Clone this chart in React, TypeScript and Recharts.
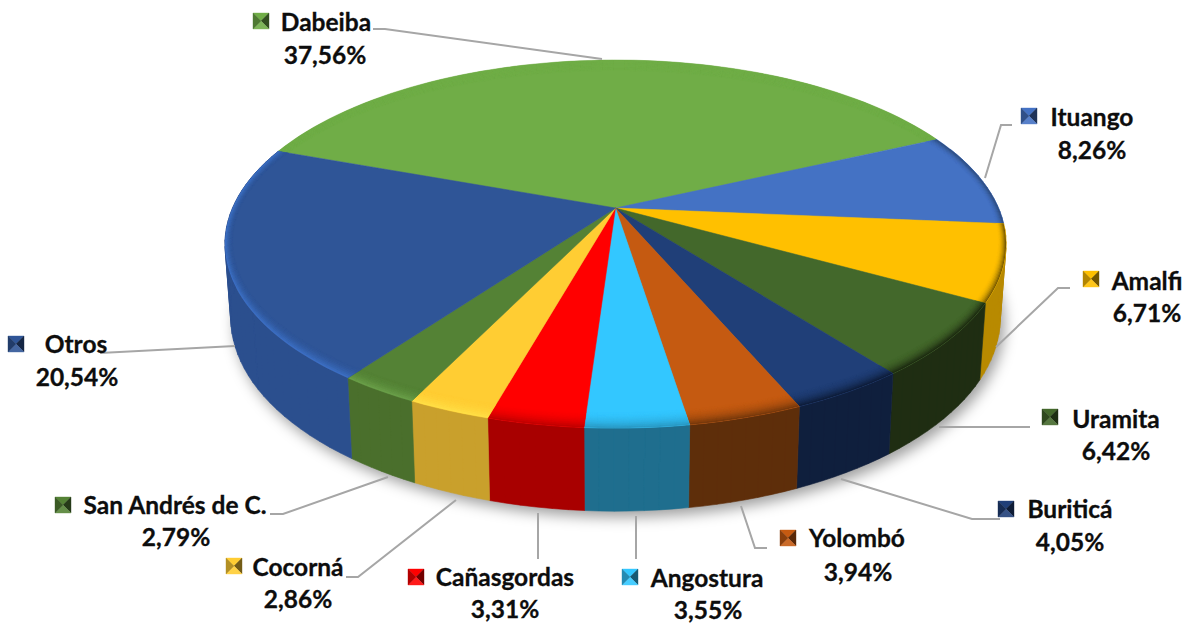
import { Pie, PieChart } from "recharts";

const names = ["Dabeiba", "Ituango", "Amalfi", "Uramita", "Buriticá", "Yolombó", "Angostura", "Cañasgordas", "Cocorná", "San Andrés de C.", "Otros"];
const shares = [37.56, 8.26, 6.71, 6.42, 4.05, 3.94, 3.55, 3.31, 2.86, 2.79, 20.54];
const topColors = ["#70AD47", "#4472C4", "#FFC000", "#43682B", "#203F78", "#C55A11", "#33C7FF", "#FF0000", "#FFCD33", "#548235", "#2F5597"];
const wallColors = ["#4F7A32", "#2F4F88", "#B88A00", "#1F2D12", "#0F1F3D", "#5E2E0A", "#1F6E8E", "#A80000", "#C9A02C", "#4A6F2C", "#2B4F8E"];
const rimColors = ["#70AD47", "#2F4F80", "#7A5C00", "#1F2D12", "#0F1F3D", "#7A3A0C", "#2A9CC8", "#C40000", "#FFDE45", "#699E48", "#3C6FC4"];

// label anchors: name centre, percent centre, marker centre, then leader line points
const nameAt = [[326, 21], [1092, 116], [1147, 280], [1116, 418], [1070, 508], [857, 537], [707, 577], [505, 576], [298, 566], [175, 504], [76, 343]];
const pctAt = [[325, 54], [1092, 149], [1147, 312], [1116, 450], [1070, 541], [858, 571], [708, 609], [505, 608], [298, 598], [176, 536], [77, 376]];
const markerAt = [[261, 21], [1029, 116], [1091, 279], [1050, 417], [1006, 509], [788, 538], [630, 577], [416, 577], [234, 566], [63, 505], [16, 344]];
const leaders = [
  "373,29 385,29 602,59",
  "1012,125 1001,125 985,178",
  "1070,288 1058,288 996,347",
  "1030,427 939,427",
  "1000,519 972,519 841,479",
  "767,548 755,548 741,506",
  "636,559 636,516",
  "538,559 538,513",
  "346,577 358,577 456,500",
  "270,514 283,514 388,477",
  "100,353 235,346",
];

const sliceData = names.map((name, i) => ({ name, value: shares[i] }));
const discData = [{ name: "disc", value: 100 }];

const WIDTH = 1196;
const HEIGHT = 625;
const APEX_X = 615.5;
const APEX_Y = 208;
const RX = 383;
const RY = 177;
const TILT = 0.196;

const rad = (deg: number) => (deg * Math.PI) / 180;

// perspective view of the flat pie
function project(deg: number) {
  const X = Math.cos(rad(deg));
  const Y = -Math.sin(rad(deg));
  const w = 1 - TILT * Y;
  return [(RX * X) / w, (RY * Y) / w];
}

const topPoint = (deg: number, sx = 1, sy = 1) => {
  const [u, v] = project(deg);
  return [APEX_X + u * sx, APEX_Y + v * sy];
};

const bottomPoint = (deg: number) => {
  const [u, v] = project(deg);
  return [APEX_X + u * 0.985, APEX_Y + v * 1.05 + 72];
};

function arcAngles(start: number, end: number) {
  const n = Math.max(2, Math.ceil(Math.abs(end - start) / 2));
  return Array.from({ length: n + 1 }, (_, i) => start + ((end - start) * i) / n);
}

const toPath = (pts: number[][]) => "M" + pts.map((p) => `${p[0].toFixed(1)},${p[1].toFixed(1)}`).join("L") + "Z";

function mix(a: string, b: string, t: number) {
  const pa = [1, 3, 5].map((i) => parseInt(a.slice(i, i + 2), 16));
  const pb = [1, 3, 5].map((i) => parseInt(b.slice(i, i + 2), 16));
  return `rgb(${pa.map((v, i) => Math.round(v + (pb[i] - v) * t)).join(",")})`;
}

function signedArea(pts: number[][]) {
  return pts.reduce((sum, p, k) => {
    const q = pts[(k + 1) % pts.length];
    return sum + p[0] * q[1] - q[0] * p[1];
  }, 0);
}

function ShadowShape(props: any) {
  const angles = arcAngles(props.startAngle, props.endAngle);
  const pts = angles.map((a) => {
    const [x, y] = bottomPoint(a);
    return [x + 4, y + 6];
  });
  return <path d={toPath(pts)} fill="#000000" fillOpacity={0.38} filter="url(#pieShadow)" />;
}

// the wall is swept quad by quad in one path, so the silhouettes fill in without seams
function WallShape(props: any) {
  const i = props.index;
  const angles = arcAngles(props.startAngle, props.endAngle);
  const d = angles
    .slice(1)
    .map((a, k) => {
      const prev = angles[k];
      if (Math.sin(rad(a)) > 0.35) return "";
      const quad = [topPoint(prev), topPoint(a), bottomPoint(a), bottomPoint(prev)];
      return toPath(signedArea(quad) < 0 ? quad.reverse() : quad);
    })
    .join("");
  return <path d={d} fill={wallColors[i]} stroke={wallColors[i]} strokeWidth={0.6} fillRule="nonzero" />;
}

const BEVEL_BANDS = 8;

function TopShape(props: any) {
  const i = props.index;
  const angles = arcAngles(props.startAngle, props.endAngle);
  const base = toPath([[APEX_X, APEX_Y], ...angles.map((a) => topPoint(a))]);
  const sign = props.endAngle < props.startAngle ? -1 : 1;
  // bands run past the slice ends and get clipped to the slice
  const wide = arcAngles(props.startAngle - sign * 6, props.endAngle + sign * 6);
  const bands = Array.from({ length: BEVEL_BANDS }, (_, b) => {
    const t0 = 1 - b / BEVEL_BANDS;
    const t1 = 1 - (b + 1) / BEVEL_BANDS;
    const outer = wide.map((a) => topPoint(a, 1 - 0.02 * t1, 1 - 0.07 * t1));
    const inner = wide.map((a) => topPoint(a, 1 - 0.02 * t0, 1 - 0.07 * t0));
    const t = (b + 1) / BEVEL_BANDS;
    return { d: toPath([...outer, ...inner.reverse()]), fill: mix(topColors[i], rimColors[i], t * t) };
  });
  return (
    <g>
      <clipPath id={`slice-${i}`}>
        <path d={base} />
      </clipPath>
      <path d={base} fill={topColors[i]} stroke={topColors[i]} strokeWidth={0.5} />
      <g clipPath={`url(#slice-${i})`}>
        {bands.map((b, k) => (
          <path d={b.d} fill={b.fill} stroke={b.fill} strokeWidth={0.4} key={k} />
        ))}
      </g>
    </g>
  );
}

function Marker({ x, y, color }: { x: number; y: number; color: string }) {
  const h = 8;
  const c = `${x},${y}`;
  const tl = `${x - h},${y - h}`;
  const tr = `${x + h},${y - h}`;
  const br = `${x + h},${y + h}`;
  const bl = `${x - h},${y + h}`;
  const faces = [
    { points: `${tl} ${tr} ${c}`, fill: color },
    { points: `${tr} ${br} ${c}`, fill: mix(color, "#000000", 0.55) },
    { points: `${br} ${bl} ${c}`, fill: mix(color, "#FFFFFF", 0.1) },
    { points: `${bl} ${tl} ${c}`, fill: mix(color, "#000000", 0.3) },
  ];
  return (
    <g>
      {faces.map((f, k) => (
        <polygon points={f.points} fill={f.fill} stroke={f.fill} strokeWidth={0.4} key={k} />
      ))}
    </g>
  );
}

function SliceLabel(props: any) {
  const i = props.index;
  const textStyle = { fontFamily: "Lato", fontWeight: 700, fontSize: 24.5, fill: "#0D0D0D", stroke: "#0D0D0D", strokeWidth: 0.3 };
  return (
    <g>
      <polyline points={leaders[i]} fill="none" stroke="#A6A6A6" strokeWidth={2} />
      <Marker x={markerAt[i][0]} y={markerAt[i][1]} color={topColors[i]} />
      <text x={nameAt[i][0]} y={nameAt[i][1]} textAnchor="middle" dominantBaseline="central" style={textStyle}>
        {names[i]}
      </text>
      <text x={pctAt[i][0]} y={pctAt[i][1]} textAnchor="middle" dominantBaseline="central" style={textStyle}>
        {shares[i].toFixed(2).replace(".", ",") + "%"}
      </text>
    </g>
  );
}

export default function App() {
  return (
    <div style={{ position: "absolute", left: 0, top: 0, width: WIDTH, height: HEIGHT }}>
      <PieChart width={WIDTH} height={HEIGHT} margin={{ top: 0, right: 0, bottom: 0, left: 0 }}>
        <defs>
          <filter id="pieShadow" x="-10%" y="-10%" width="120%" height="130%">
            <feGaussianBlur stdDeviation="7" />
          </filter>
        </defs>
        <Pie
          data={discData}
          dataKey="value"
          cx={APEX_X}
          cy={APEX_Y}
          outerRadius={RX}
          startAngle={160}
          endAngle={-200}
          shape={ShadowShape}
          stroke="none"
          isAnimationActive={false}
        />
        <Pie
          data={sliceData}
          dataKey="value"
          nameKey="name"
          cx={APEX_X}
          cy={APEX_Y}
          outerRadius={RX}
          startAngle={160}
          endAngle={-200}
          shape={WallShape}
          stroke="none"
          isAnimationActive={false}
        />
        <Pie
          data={sliceData}
          dataKey="value"
          nameKey="name"
          cx={APEX_X}
          cy={APEX_Y}
          outerRadius={RX}
          startAngle={160}
          endAngle={-200}
          shape={TopShape}
          stroke="none"
          label={SliceLabel}
          labelLine={false}
          isAnimationActive={false}
        />
      </PieChart>
    </div>
  );
}
